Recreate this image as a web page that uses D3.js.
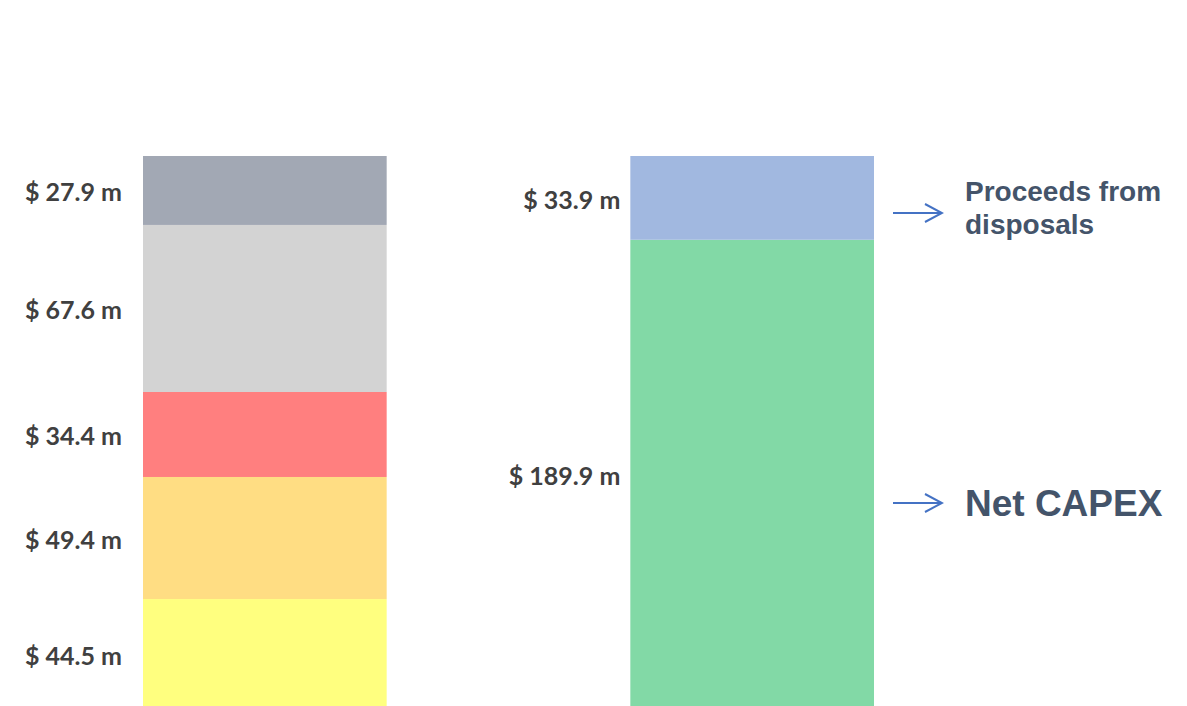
<!DOCTYPE html>
<html>
<head>
<meta charset="utf-8">
<title>CAPEX</title>
<script src="https://d3js.org/d3.v7.min.js"></script>
<style>
  body { margin: 0; background: #fff; }
  svg { display: block; }
</style>
</head>
<body>
<svg id="chart" width="1187" height="706"></svg>
<script>
// data, bottom to top
var usesValues = [44.5, 49.4, 34.4, 67.6, 27.9];
var usesColors = ["#FFFF7F", "#FFDD83", "#FF7F7F", "#D3D3D3", "#A2A8B4"];
var sourcesValues = [189.9, 33.9];
var sourcesColors = ["#82D9A6", "#A1B8E0"];
var sourcesNotes = [["Net CAPEX"], ["Proceeds from", "disposals"]];
var bars = ["uses", "sources"];

var svg = d3.select("#chart");
var total = d3.sum(usesValues);

var x = d3.scaleBand()
    .domain(bars)
    .range([143, 874])
    .paddingInner(0.5)
    .paddingOuter(0);

// bar runs a little past the bottom edge of the picture
var y = d3.scaleLinear()
    .domain([0, total])
    .range([709, 156]);

function stackUp(values, colors) {
  var acc = 0;
  return values.map(function(v, i) {
    var d = {value: v, y0: acc, y1: acc + v, color: colors[i], index: i};
    acc += v;
    return d;
  });
}

var stacks = {
  uses: stackUp(usesValues, usesColors),
  sources: stackUp(sourcesValues, sourcesColors)
};

var labelGap = {uses: 21, sources: 10};

bars.forEach(function(b) {
  var g = svg.append("g");
  g.selectAll("rect")
    .data(stacks[b])
    .enter().append("rect")
      .attr("x", x(b))
      .attr("width", x.bandwidth())
      .attr("y", function(d) { return y(d.y1); })
      .attr("height", function(d) { return y(d.y0) - y(d.y1); })
      .attr("fill", function(d) { return d.color; });

  g.selectAll("text")
    .data(stacks[b])
    .enter().append("text")
      .attr("x", x(b) - labelGap[b])
      .attr("y", function(d) { return (y(d.y0) + y(d.y1)) / 2 + 11; })
      .attr("text-anchor", "end")
      .attr("font-family", "Lato, 'Open Sans', sans-serif")
      .attr("font-weight", "bold")
      .attr("font-size", "25px")
      .attr("fill", "#404040")
      .text(function(d) { return "$ " + d3.format(".1f")(d.value) + " m"; });
});

// annotations for the right bar
var defs = svg.append("defs");
defs.append("marker")
    .attr("id", "arrow")
    .attr("viewBox", "0 0 20 20")
    .attr("refX", 18)
    .attr("refY", 10)
    .attr("markerWidth", 20)
    .attr("markerHeight", 20)
    .attr("markerUnits", "userSpaceOnUse")
    .attr("orient", "auto")
  .append("path")
    .attr("d", "M1,1 L18,10 L1,19")
    .attr("fill", "none")
    .attr("stroke", "#4472C4")
    .attr("stroke-width", 2);

var noteY = [503, 213];
var arrowX0 = 893, arrowX1 = 942, noteX = 965;

stacks.sources.forEach(function(d, i) {
  svg.append("line")
      .attr("x1", arrowX0)
      .attr("x2", arrowX1)
      .attr("y1", noteY[i])
      .attr("y2", noteY[i])
      .attr("stroke", "#4472C4")
      .attr("stroke-width", 1.8)
      .attr("marker-end", "url(#arrow)");

  var lines = sourcesNotes[i];
  var big = lines.length === 1;
  var t = svg.append("text")
      .attr("font-family", "'Liberation Sans', Arial, sans-serif")
      .attr("font-weight", "bold")
      .attr("font-size", big ? "37px" : "28px")
      .attr("fill", "#44546A");
  lines.forEach(function(line, j) {
    var lh = 33;
    var startY = big ? noteY[i] + 13 : noteY[i] - 12;
    t.append("tspan")
      .attr("x", noteX)
      .attr("y", startY + j * lh)
      .text(line);
  });
});
</script>
</body>
</html>
